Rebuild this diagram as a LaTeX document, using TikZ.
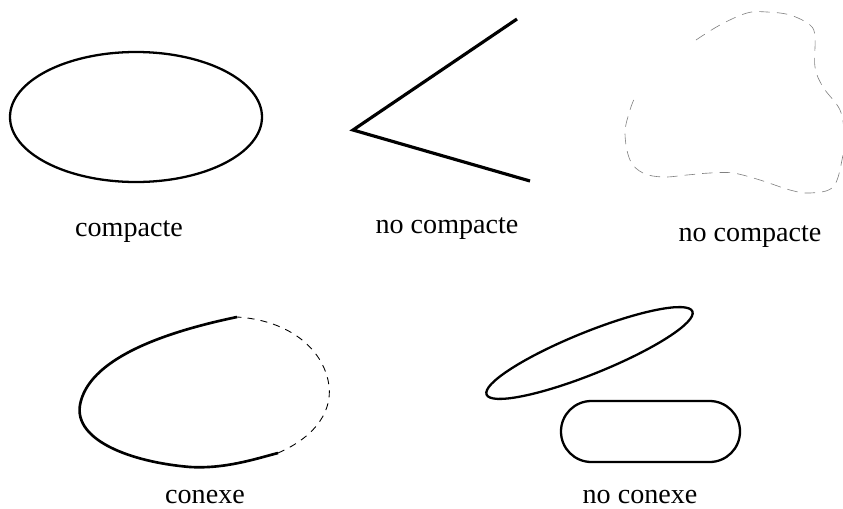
\documentclass[tikz,border=0pt]{standalone}
\usepackage{fontspec}
\setmainfont{Liberation Serif}
\begin{document}
\begin{tikzpicture}[
    x=0.02cm, y=-0.02cm,
    every node/.style={font=\fontsize{16}{19}\selectfont, anchor=base},
    solid line/.style={line width=1.3pt},
    thin dash/.style={line width=0.5pt, dash pattern=on 4pt off 3.5pt},
    blob line/.style={line width=0.35pt, gray, dash pattern=on 6pt off 4pt}
]

\useasboundingbox (0,0) rectangle (843,508);

% ================= compacte : ellipse =================

\draw[solid line] (136,117) ellipse [x radius=126, y radius=65];

\node (lcomp) at (129,236) {compacte};

% ================= no compacte : angle =================

\coordinate (pa) at (517,19);
\coordinate (pb) at (353,130);
\coordinate (pc) at (530,181);

\draw[line width=1.8pt, line join=miter] (pa)--(pb)--(pc);

\node (lnocompa) at (447,233) {no compacte};

% ================= no compacte : contour pointille ouvert =================

\draw[blob line] plot[smooth, tension=0.6] coordinates {
    (696,40) (720,25) (747,13) (767,12) (790,15) (810,25) (815,37)
    (815,67) (823,87) (840,110) (844,135) (842,160) (833,187)
    (810,193) (790,190) (760,180) (733,173) (710,173) (687,175)
    (663,177) (643,173) (630,160) (625,133) (630,110) (635,97)};

\node (lnocompb) at (750,241) {no compacte};

% ================= conexe =================

\coordinate (ca) at (237,317);
\coordinate (cb) at (278,453);

\draw[line width=1.5pt] (ca) .. controls (160,333) and (88,360) .. (80,405)
    .. controls (74,440) and (130,462) .. (190,467)
    .. controls (225,469) and (255,459) .. (cb);
\draw[thin dash] (cb) .. controls (315,437) and (335,410) .. (328,380)
    .. controls (320,345) and (285,320) .. (ca);

\node (lconn) at (205,503) {conexe};

% ================= no conexe =================

\draw[solid line, rotate around={22:(589.5,353)}]
    (589.5,353) ellipse [x radius=111, y radius=21];

\draw[solid line, rounded corners=17.3pt] (561,401) rectangle (740,462);

\node (lnoconn) at (640,503) {no conexe};

\end{tikzpicture}
\end{document}
